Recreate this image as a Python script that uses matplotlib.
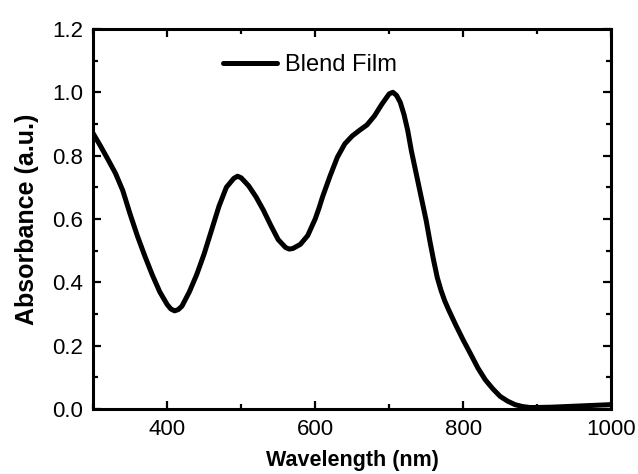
import matplotlib
matplotlib.use("Agg")
import matplotlib.pyplot as plt
from matplotlib.ticker import MultipleLocator, FormatStrFormatter

# UV-vis absorbance of the blend film
wavelength = [300, 310, 320, 330, 340, 350, 360, 370, 380, 390,
              400, 405, 410, 415, 420, 430, 440, 450, 460, 470,
              480, 490, 495, 500, 510, 520, 530, 540, 550, 560,
              565, 570, 580, 590, 600, 605, 610, 620, 630, 640,
              650, 660, 670, 680, 690, 700, 705, 710, 715, 720,
              725, 730, 735, 740, 745, 750, 755, 760, 765, 770,
              775, 780, 790, 800, 810, 820, 830, 840, 850, 860, 870,
              880, 890, 900, 920, 940, 960, 980, 1000]
absorbance = [0.87, 0.83, 0.788, 0.745, 0.69, 0.615, 0.545, 0.482, 0.423, 0.37,
              0.33, 0.316, 0.31, 0.314, 0.325, 0.37, 0.425, 0.49, 0.565, 0.64,
              0.70, 0.728, 0.735, 0.73, 0.705, 0.67, 0.628, 0.58, 0.535, 0.51,
              0.505, 0.507, 0.52, 0.548, 0.60, 0.633, 0.67, 0.735, 0.795, 0.837,
              0.862, 0.88, 0.897, 0.925, 0.962, 0.995, 1.0, 0.99, 0.968, 0.93,
              0.88, 0.815, 0.76, 0.705, 0.65, 0.595, 0.53, 0.47, 0.415, 0.375,
              0.342, 0.315, 0.265, 0.218, 0.174, 0.129, 0.092, 0.064, 0.04, 0.025, 0.014,
              0.008, 0.005, 0.005, 0.006, 0.008, 0.010, 0.012, 0.014]
series_label = "Blend Film"

plt.rcParams['font.family'] = ['Liberation Sans', 'DejaVu Sans']

fig = plt.figure(figsize=(6.38, 4.74), dpi=100)
ax = fig.add_axes([0.146, 0.137, 0.812, 0.802])

ax.plot(wavelength, absorbance, color="black", lw=3.6, label=series_label,
        solid_capstyle="round", solid_joinstyle="round")

ax.set_xlim(300, 1000)
ax.set_ylim(0, 1.2)
ax.xaxis.set_major_locator(MultipleLocator(200))
ax.xaxis.set_minor_locator(MultipleLocator(100))
ax.yaxis.set_major_locator(MultipleLocator(0.2))
ax.yaxis.set_minor_locator(MultipleLocator(0.1))
ax.yaxis.set_major_formatter(FormatStrFormatter('%.1f'))

ax.tick_params(which="both", direction="in", top=True, right=True, width=1.6,
               labelsize=16, pad=7)
ax.tick_params(which="major", length=6)
ax.tick_params(which="minor", length=3.5)
for s in ax.spines.values():
    s.set_linewidth(2.2)

ax.set_xlabel("Wavelength (nm)", fontsize=15.5, fontweight="bold", labelpad=7)
ax.set_ylabel("Absorbance (a.u.)", fontsize=18, fontweight="bold", labelpad=10)

ax.legend(loc="upper left", bbox_to_anchor=(0.21, 0.99), frameon=False,
          fontsize=17, handlelength=2.3, handletextpad=0.3)

fig.savefig("out.png", dpi=100)
